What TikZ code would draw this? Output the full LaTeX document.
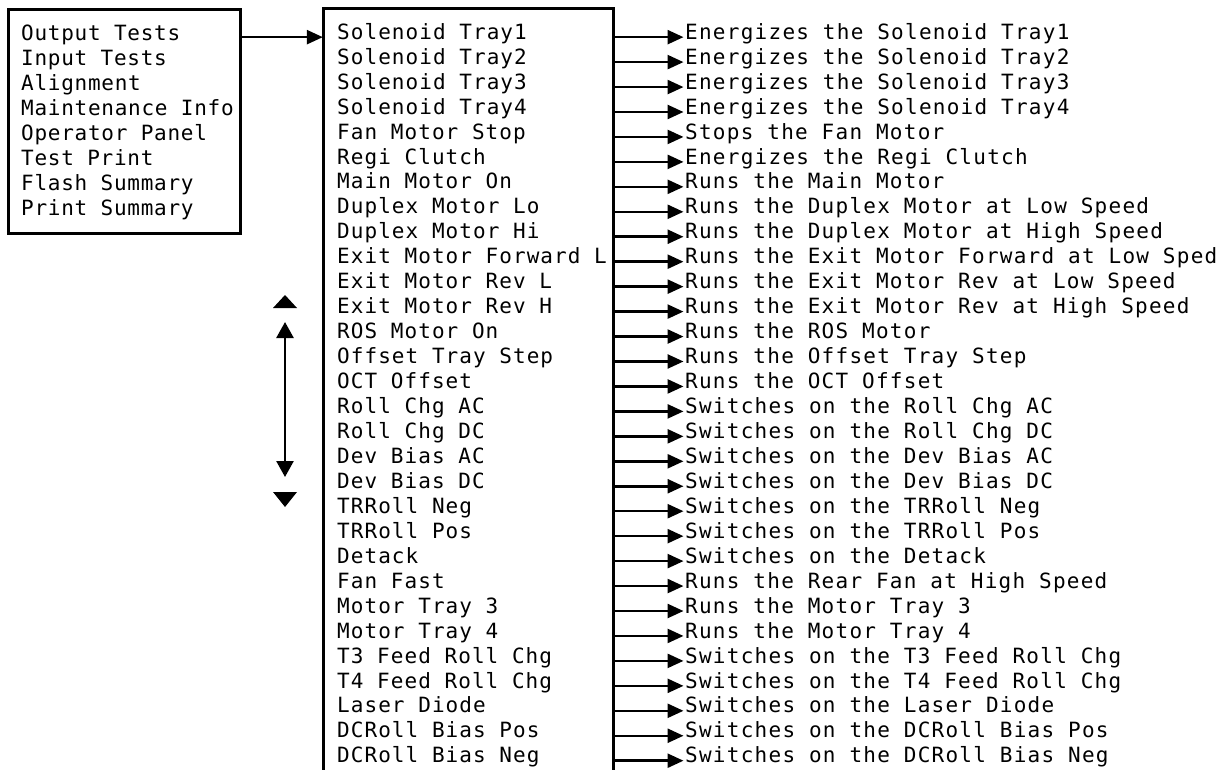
\documentclass[tikz,border=0pt]{standalone}
\usepackage{fontspec}
\usetikzlibrary{arrows.meta}
\newfontfamily\monol{DejaVu Sans Mono}[LetterSpace=3.5]
\newfontfamily\monom{DejaVu Sans Mono}[LetterSpace=5]
\newfontfamily\monor{DejaVu Sans Mono}[LetterSpace=6]
\begin{document}
\begin{tikzpicture}[x=1pt,y=-1pt,
  txt/.style={inner sep=0pt,anchor=base west,font=\monom\fontsize{21}{24}\selectfont},
  ltxt/.style={txt,font=\monol\fontsize{21}{24}\selectfont},
  rtxt/.style={txt,font=\monor\fontsize{21}{24}\selectfont},
  boxline/.style={line width=3pt},
  arr/.style={line width=2.5pt,-{Triangle[length=16pt,width=14pt]}},
  dbl/.style={line width=2.5pt,{Triangle[length=16pt,width=17pt]}-{Triangle[length=16pt,width=17pt]}},
  tri/.style={fill=black}]
\useasboundingbox (0,0) rectangle (1230,770);
\clip (0,0) rectangle (1230,770);
% left box
\draw[boxline] (8,10) rectangle (240,233);
\node[inner sep=0pt,minimum width=232pt,minimum height=223pt] (lbox) at (124,121.5) {};
\foreach \t [count=\i] in {Output Tests,Input Tests,Alignment,Maintenance Info,Operator Panel,Test Print,Flash Summary,Print Summary}{
  \pgfmathsetmacro\b{41+24.95*(\i-1)}
  \node[ltxt] (l\i) at (21,\b) {\t};
}
% middle box
\draw[boxline] (323,8.3) rectangle (613,790);
\node[inner sep=0pt,minimum width=290pt,minimum height=781.7pt] (mbox) at (468,399.15) {};
\foreach \m/\r [count=\i] in {
 Solenoid Tray1/Energizes the Solenoid Tray1,
 Solenoid Tray2/Energizes the Solenoid Tray2,
 Solenoid Tray3/Energizes the Solenoid Tray3,
 Solenoid Tray4/Energizes the Solenoid Tray4,
 Fan Motor Stop/Stops the Fan Motor,
 Regi Clutch/Energizes the Regi Clutch,
 Main Motor On/Runs the Main Motor,
 Duplex Motor Lo/Runs the Duplex Motor at Low Speed,
 Duplex Motor Hi/Runs the Duplex Motor at High Speed,
 Exit Motor Forward L/Runs the Exit Motor Forward at Low Sped,
 Exit Motor Rev L/Runs the Exit Motor Rev at Low Speed,
 Exit Motor Rev H/Runs the Exit Motor Rev at High Speed,
 ROS Motor On/Runs the ROS Motor,
 Offset Tray Step/Runs the Offset Tray Step,
 OCT Offset/Runs the OCT Offset,
 Roll Chg AC/Switches on the Roll Chg AC,
 Roll Chg DC/Switches on the Roll Chg DC,
 Dev Bias AC/Switches on the Dev Bias AC,
 Dev Bias DC/Switches on the Dev Bias DC,
 TRRoll Neg/Switches on the TRRoll Neg,
 TRRoll Pos/Switches on the TRRoll Pos,
 Detack/Switches on the Detack,
 Fan Fast/Runs the Rear Fan at High Speed,
 Motor Tray 3/Runs the Motor Tray 3,
 Motor Tray 4/Runs the Motor Tray 4,
 T3 Feed Roll Chg/Switches on the T3 Feed Roll Chg,
 T4 Feed Roll Chg/Switches on the T4 Feed Roll Chg,
 Laser Diode/Switches on the Laser Diode,
 DCRoll Bias Pos/Switches on the DCRoll Bias Pos,
 DCRoll Bias Neg/Switches on the DCRoll Bias Neg}{
  \pgfmathsetmacro\b{39.3+24.95*(\i-1)}
  \node[txt] (m\i) at (337,\b) {\m};
  \node[rtxt] (r\i) at (685,\b) {\r};
  \draw[arr] (mbox.east |- r\i.mid west) -- ([xshift=-1.5pt]r\i.mid west);
}
% arrow from left box to middle box
\draw[arr] (lbox.east |- m1.mid west) -- (mbox.west |- m1.mid west);
% scroll arrows
\coordinate (up) at (285,322);
\coordinate (dn) at (285,477);
\draw[dbl] (up) -- (dn);
\fill[tri] (273,308) -- (297,308) -- (285,295) -- cycle;
\fill[tri] (273,492) -- (297,492) -- (285,507) -- cycle;
\end{tikzpicture}
\end{document}
